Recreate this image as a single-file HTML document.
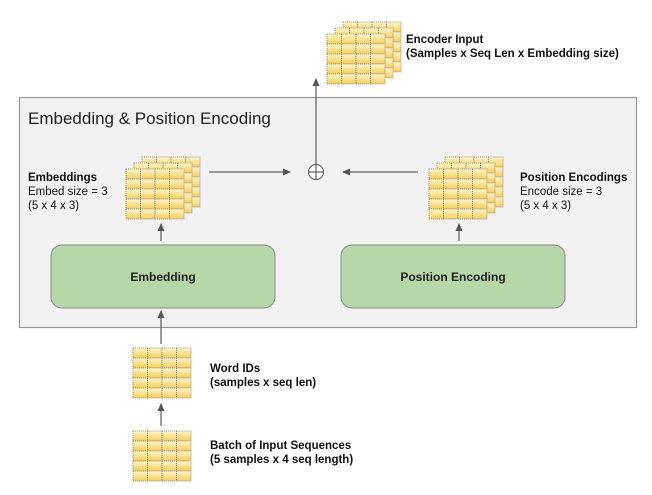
<!DOCTYPE html>
<html><head><style>
body{margin:0;background:#fff;}
svg{display:block;font-family:"Liberation Sans",Arial,sans-serif;}
</style></head><body>
<svg width="652" height="495" viewBox="0 0 652 495" xmlns="http://www.w3.org/2000/svg">
<defs>
<linearGradient id="g" x1="0" y1="0" x2="0" y2="1">
<stop offset="0" stop-color="#fff6cc"/><stop offset="1" stop-color="#f5cd5a"/>
</linearGradient>
<marker id="a" markerWidth="8" markerHeight="8" refX="7" refY="4" orient="auto" markerUnits="userSpaceOnUse">
<path d="M0,0.5 L8,4 L0,7.5 Z" fill="#555"/></marker>
<g id="grid">
<rect x="0" y="0" width="58" height="50" fill="#fff"/>
<g fill="url(#g)" stroke="#777" stroke-width="0.8" stroke-dasharray="1,1">
<rect x="0" y="0" width="14.5" height="10"/><rect x="14.5" y="0" width="14.5" height="10"/><rect x="29" y="0" width="14.5" height="10"/><rect x="43.5" y="0" width="14.5" height="10"/>
<rect x="0" y="10" width="14.5" height="10"/><rect x="14.5" y="10" width="14.5" height="10"/><rect x="29" y="10" width="14.5" height="10"/><rect x="43.5" y="10" width="14.5" height="10"/>
<rect x="0" y="20" width="14.5" height="10"/><rect x="14.5" y="20" width="14.5" height="10"/><rect x="29" y="20" width="14.5" height="10"/><rect x="43.5" y="20" width="14.5" height="10"/>
<rect x="0" y="30" width="14.5" height="10"/><rect x="14.5" y="30" width="14.5" height="10"/><rect x="29" y="30" width="14.5" height="10"/><rect x="43.5" y="30" width="14.5" height="10"/>
<rect x="0" y="40" width="14.5" height="10"/><rect x="14.5" y="40" width="14.5" height="10"/><rect x="29" y="40" width="14.5" height="10"/><rect x="43.5" y="40" width="14.5" height="10"/>
</g></g>
<g id="stack">
<use href="#grid" x="16" y="-12"/><use href="#grid" x="8" y="-6"/><use href="#grid" x="0" y="0"/>
</g>
</defs>

<rect x="19.5" y="97.5" width="617" height="230" fill="#f2f2f2" stroke="#999" stroke-width="1.2"/>
<text x="28" y="124" font-size="17" fill="#222">Embedding &amp; Position Encoding</text>

<use href="#stack" x="327" y="34"/>
<text x="406" y="43" font-size="11.5" font-weight="bold" fill="#111">Encoder Input</text>
<text x="406" y="57" font-size="11.5" font-weight="bold" fill="#111">(Samples x Seq Len x Embedding size)</text>

<use href="#stack" x="126" y="169"/>
<text x="28" y="181" font-size="11.5" font-weight="bold" fill="#111">Embeddings</text>
<text x="28" y="195" font-size="11.5" fill="#111">Embed size = 3</text>
<text x="28" y="209" font-size="11.5" fill="#111">(5 x 4 x 3)</text>

<use href="#stack" x="429" y="169"/>
<text x="520" y="181" font-size="11.5" font-weight="bold" fill="#111">Position Encodings</text>
<text x="520" y="195" font-size="11.5" fill="#111">Encode size = 3</text>
<text x="520" y="209" font-size="11.5" fill="#111">(5 x 4 x 3)</text>

<circle cx="316" cy="172" r="7.5" fill="#fff" stroke="#666" stroke-width="1.2"/>
<path d="M316,164.5 V179.5 M308.5,172 H323.5" stroke="#666" stroke-width="1.2"/>

<g stroke="#666" stroke-width="1.3" fill="none">
<line x1="209" y1="172" x2="290" y2="172" marker-end="url(#a)"/>
<line x1="418" y1="172" x2="343" y2="172" marker-end="url(#a)"/>
<line x1="316" y1="164" x2="316" y2="79" marker-end="url(#a)"/>
<line x1="161" y1="241" x2="161" y2="224" marker-end="url(#a)"/>
<line x1="459" y1="241" x2="459" y2="224" marker-end="url(#a)"/>
<line x1="161" y1="344" x2="161" y2="311" marker-end="url(#a)"/>
<line x1="161" y1="426" x2="161" y2="404" marker-end="url(#a)"/>
</g>

<rect x="51" y="245" width="224" height="63" rx="11" fill="#b6d7a8" stroke="#888" stroke-width="1"/>
<text x="163" y="281" font-size="12" font-weight="bold" fill="#222" text-anchor="middle">Embedding</text>
<rect x="341" y="245" width="224" height="63" rx="11" fill="#b6d7a8" stroke="#888" stroke-width="1"/>
<text x="453" y="281" font-size="12" font-weight="bold" fill="#222" text-anchor="middle">Position Encoding</text>

<use href="#grid" x="133" y="348"/>
<text x="210" y="372" font-size="11.5" font-weight="bold" fill="#111">Word IDs</text>
<text x="210" y="386" font-size="11.5" font-weight="bold" fill="#111">(samples x seq len)</text>

<use href="#grid" x="133" y="431"/>
<text x="210" y="449" font-size="11.5" font-weight="bold" fill="#111">Batch of Input Sequences</text>
<text x="210" y="463" font-size="11.5" font-weight="bold" fill="#111">(5 samples x 4 seq length)</text>
</svg>
</body></html>
